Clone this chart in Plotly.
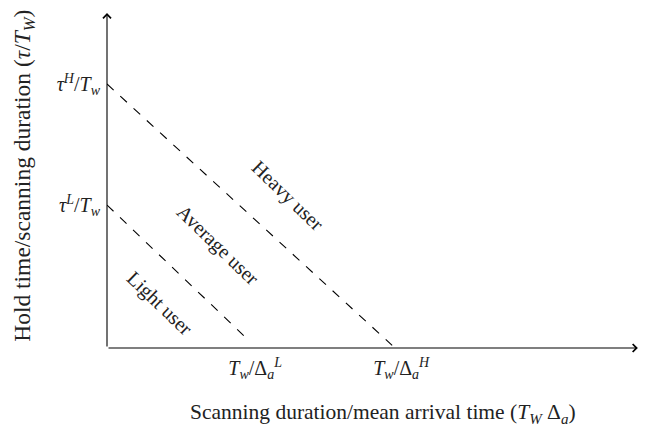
import plotly.graph_objects as go

# user lines: (x at start, y at start) -> (x at end, y at end)
light_x = [0.0, 2.65]
light_y = [4.23, 0.24]
heavy_x = [0.0, 5.35]
heavy_y = [7.81, 0.08]

x_tickvals = [2.78, 5.52]
x_ticktext = ["<i>T<sub>w</sub></i>/Δ<sub><i>a</i></sub><sup><i>L</i></sup>",
              "<i>T<sub>w</sub></i>/Δ<sub><i>a</i></sub><sup><i>H</i></sup>"]
y_tickvals = [7.81, 4.23]
y_ticktext = ["<i>τ<sup>H</sup></i>/<i>T<sub>w</sub></i>",
              "<i>τ<sup>L</sup></i>/<i>T<sub>w</sub></i>"]

region_labels = ["Light user", "Average user", "Heavy user"]
region_x = [0.99, 2.08, 3.38]
region_y = [1.33, 3.02, 4.50]

x_title = "Scanning duration/mean arrival time (<i>T<sub>W</sub></i> Δ<sub><i>a</i></sub>)"
y_title = "Hold time/scanning duration (<i>τ</i>/<i>T<sub>W</sub></i>)"

x_max = 9.96
y_max = 9.91

serif = "Liberation Serif, DejaVu Serif, serif"
ink = "#222222"

fig = go.Figure()
for xs, ys in [(light_x, light_y), (heavy_x, heavy_y)]:
    fig.add_trace(go.Scatter(x=xs, y=ys, mode="lines",
                             line=dict(color="black", width=1.1, dash="dash"),
                             showlegend=False, hoverinfo="skip"))

# axis arrows
fig.add_annotation(x=x_max, y=0, ax=0, ay=0, xref="x", yref="y", axref="x", ayref="y",
                   showarrow=True, arrowhead=4, arrowsize=1.4, arrowwidth=1.1,
                   arrowcolor="black", text="")
fig.add_annotation(x=0, y=y_max, ax=0, ay=0, xref="x", yref="y", axref="x", ayref="y",
                   showarrow=True, arrowhead=4, arrowsize=1.4, arrowwidth=1.1,
                   arrowcolor="black", text="")

for t, x, y in zip(region_labels, region_x, region_y):
    fig.add_annotation(x=x, y=y, text=t, showarrow=False, textangle=44,
                       font=dict(family=serif, size=20, color=ink))

# axis titles as annotations so they can sit where the reference has them
fig.add_annotation(x=0.518, y=-0.195, xref="paper", yref="paper", text=x_title,
                   showarrow=False, xanchor="center", yanchor="middle",
                   font=dict(family=serif, size=21.5, color=ink))
fig.add_annotation(x=-0.156, y=0.509, xref="paper", yref="paper", text=y_title,
                   showarrow=False, textangle=-90, xanchor="center", yanchor="middle",
                   font=dict(family=serif, size=23.5, color=ink))

# page body adds 8px offset, so margins are shifted to compensate
fig.update_layout(
    width=648, height=430,
    margin=dict(l=99, r=16, t=2, b=90),
    plot_bgcolor="white", paper_bgcolor="white",
    font=dict(family=serif, size=20, color=ink),
)
fig.update_xaxes(range=[0, 10], showgrid=False, zeroline=False, showline=False,
                 tickvals=x_tickvals, ticktext=x_ticktext, ticks="",
                 ticklabelstandoff=6, automargin=False)
fig.update_yaxes(range=[0, 10], showgrid=False, zeroline=False, showline=False,
                 tickvals=y_tickvals, ticktext=y_ticktext, ticks="",
                 ticklabelstandoff=6, automargin=False)

fig.write_html("out.html")
